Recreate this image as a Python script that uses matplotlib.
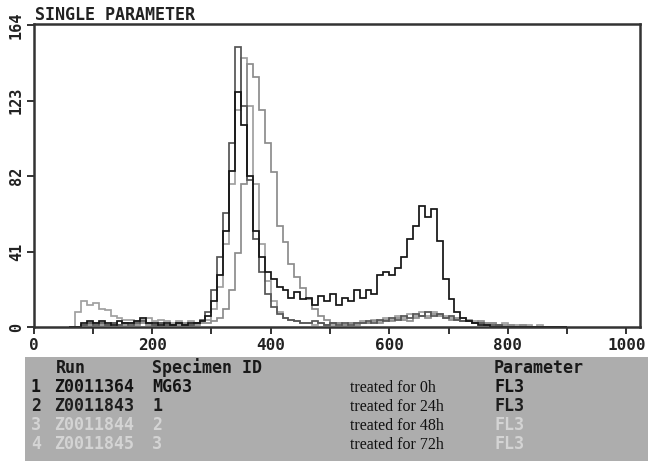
import numpy as np
import matplotlib
matplotlib.use("Agg")
import matplotlib.pyplot as plt
from matplotlib.patches import Rectangle

# channel bins (FL3), 10 channels wide, starting at channel 60
bin_start = 60
bin_width = 10

# counts per bin, one row = 100 channels
counts_0h = [
    0, 0, 2, 3, 2, 3, 2, 1, 3, 2,
    2, 3, 5, 2, 2, 1, 2, 1, 2, 1,
    2, 2, 3, 6, 14, 28, 52, 85, 128, 110,
    82, 52, 38, 30, 26, 22, 20, 16, 19, 15,
    16, 12, 17, 14, 18, 12, 16, 14, 20, 16,
    20, 18, 28, 30, 28, 32, 38, 48, 55, 66,
    60, 64, 47, 26, 15, 8, 5, 3, 2, 1,
    1, 0, 0, 0, 0, 0, 0, 0, 0, 0,
    0, 0, 0, 0,
]
counts_24h = [
    0, 0, 1, 2, 1, 2, 1, 2, 1, 2,
    1, 2, 3, 2, 1, 2, 1, 1, 2, 1,
    1, 2, 4, 8, 20, 38, 62, 100, 152, 120,
    80, 48, 30, 18, 11, 7, 5, 4, 3, 2,
    2, 3, 2, 1, 2, 1, 2, 1, 2, 2,
    3, 2, 4, 3, 5, 4, 6, 5, 7, 6,
    8, 6, 7, 5, 6, 4, 3, 3, 2, 2,
    1, 1, 1, 0, 0, 0, 0, 0, 0, 0,
    0, 0, 0, 0,
]
counts_48h = [
    0, 0, 1, 1, 2, 1, 1, 2, 1, 1,
    2, 1, 2, 1, 1, 2, 1, 1, 1, 2,
    1, 1, 2, 2, 3, 5, 10, 20, 40, 78,
    143, 136, 118, 100, 84, 55, 46, 34, 27, 21,
    15, 10, 6, 4, 2, 2, 1, 2, 1, 2,
    2, 3, 2, 4, 3, 5, 4, 3, 5, 6,
    5, 7, 6, 5, 4, 5, 3, 4, 2, 3,
    2, 2, 1, 1, 1, 0, 1, 0, 0, 0,
    0, 0, 0, 0,
]
counts_72h = [
    0, 8, 14, 12, 13, 10, 9, 6, 5, 4,
    4, 3, 4, 5, 3, 4, 3, 2, 3, 2,
    3, 2, 3, 4, 10, 22, 45, 78, 118, 146,
    120, 78, 45, 25, 14, 8, 5, 4, 3, 2,
    2, 1, 2, 1, 1, 2, 1, 2, 2, 3,
    2, 4, 3, 5, 4, 6, 5, 7, 6, 8,
    6, 8, 7, 6, 5, 4, 5, 3, 3, 2,
    2, 2, 1, 2, 1, 1, 1, 1, 0, 1,
    0, 0, 0, 0,
]

series = [counts_0h, counts_24h, counts_48h, counts_72h]
line_colors = ["#151515", "#555555", "#8c8c8c", "#a0a0a0"]

x_ticks = [0, 200, 400, 600, 800, 1000]
y_ticks = [0, 41, 82, 123, 164]

runs = ["Z0011364", "Z0011843", "Z0011844", "Z0011845"]
specimens = ["MG63", "1", "2", "3"]
treatments = ["treated for 0h", "treated for 24h", "treated for 48h", "treated for 72h"]
parameters = ["FL3", "FL3", "FL3", "FL3"]
row_colors = ["#141414", "#1e1e1e", "#d4d4d4", "#d4d4d4"]

W, H = 648, 462
mono = "DejaVu Sans Mono"

fig = plt.figure(figsize=(W / 100, H / 100), dpi=100)
fig.patch.set_facecolor("white")


def fx(px):
    return px / W


def fy(py):
    return 1 - py / H


ax = fig.add_axes([fx(33.5), fy(327), fx(640) - fx(33.5), fy(23.5) - fy(327)])

edges = bin_start + bin_width * np.arange(len(counts_0h) + 1)
# draw lighter ones first so black sits on top
for vals, col in list(zip(series, line_colors))[::-1]:
    ax.stairs(vals, edges, color=col, lw=1.25)

ax.set_xlim(0, 1023)
ax.set_ylim(0, 165)
ax.set_xticks(x_ticks)
ax.set_xticks([100, 300, 500, 700, 900], minor=True)
ax.set_yticks(y_ticks)
ax.set_xticklabels([str(t) for t in x_ticks], fontfamily=mono,
                   fontweight="bold", fontsize=11.5, color="#222222")
ax.set_yticklabels([str(t) for t in y_ticks], fontfamily=mono,
                   fontweight="bold", fontsize=11, color="#222222",
                   rotation=90, va="center")
ax.tick_params(axis="both", which="both", direction="out", length=5,
               width=1.4, color="#333333")
ax.tick_params(axis="x", pad=3)
ax.tick_params(axis="y", pad=2)
for sp in ax.spines.values():
    sp.set_linewidth(1.8)
    sp.set_color("#333333")

fig.text(fx(35), fy(15), "SINGLE PARAMETER", fontfamily=mono,
         fontweight="bold", fontsize=12, color="#222222", va="center")

# run legend panel
fig.add_artist(Rectangle((fx(25), fy(461)), 1 - fx(25), fy(357) - fy(461),
                         transform=fig.transFigure, facecolor="#adadad",
                         edgecolor="none"))

hdr_kw = dict(fontfamily=mono, fontweight="bold", fontsize=12,
              color="#1a1a1a", va="center")
fig.text(fx(56), fy(368), "Run", **hdr_kw)
fig.text(fx(152), fy(368), "Specimen ID", **hdr_kw)
fig.text(fx(494), fy(368), "Parameter", **hdr_kw)

row_y = [387, 406, 425, 444]
for i in range(4):
    kw = dict(fontfamily=mono, fontweight="bold", fontsize=12,
              color=row_colors[i], va="center")
    fig.text(fx(31), fy(row_y[i]), str(i + 1), **kw)
    fig.text(fx(54), fy(row_y[i]), runs[i], **kw)
    fig.text(fx(152), fy(row_y[i]), specimens[i], **kw)
    fig.text(fx(494), fy(row_y[i]), parameters[i], **kw)
    fig.text(fx(350), fy(row_y[i] + 1), treatments[i],
             fontfamily="Liberation Serif", fontsize=11.5,
             color="#111111", va="center")

fig.savefig("out.png", dpi=100)
